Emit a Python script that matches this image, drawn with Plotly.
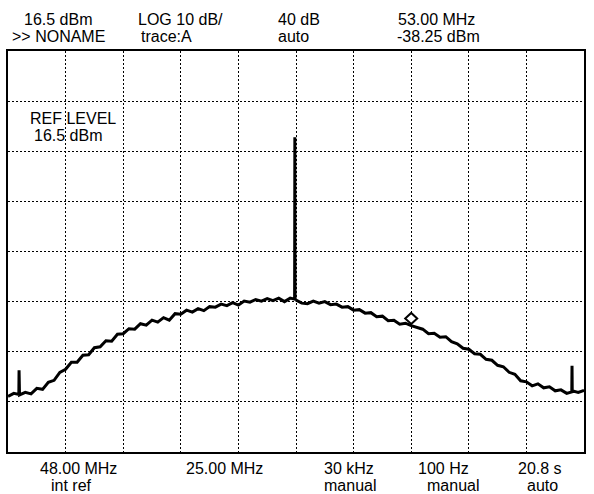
import plotly.graph_objects as go

# ---- data (spectrum analyzer trace) ----
freq_mhz = [35.50, 35.75, 35.97, 35.98, 35.99, 36.00, 36.25, 36.50, 36.75, 37.00, 37.25, 37.50, 37.75,
            38.00, 38.25, 38.50, 38.75, 39.00, 39.25, 39.50, 39.75, 40.00, 40.25, 40.50, 40.75,
            41.00, 41.25, 41.50, 41.75, 42.00, 42.25, 42.50, 42.75, 43.00, 43.25, 43.50, 43.75,
            44.00, 44.25, 44.50, 44.75, 45.00, 45.25, 45.50, 45.75, 46.00, 46.25, 46.50, 46.75,
            47.00, 47.25, 47.50, 47.75, 47.94, 47.95, 47.96, 48.00, 48.25, 48.50, 48.75,
            49.00, 49.25, 49.50, 49.75, 50.00, 50.25, 50.50, 50.75, 51.00, 51.25, 51.50, 51.75,
            52.00, 52.25, 52.50, 52.75, 53.00, 53.25, 53.50, 53.75, 54.00, 54.25, 54.50, 54.75,
            55.00, 55.25, 55.50, 55.75, 56.00, 56.25, 56.50, 56.75, 57.00, 57.25, 57.50, 57.75,
            58.00, 58.25, 58.50, 58.75, 59.00, 59.25, 59.50, 59.75, 59.97, 59.98, 59.99, 60.00,
            60.25, 60.50]
level_dbm = [-52.4, -51.8, -52.0, -47.2, -52.0, -52.1, -51.6, -51.9, -50.8, -51.0, -49.6, -49.2, -47.6,
             -47.0, -45.6, -45.6, -44.2, -44.1, -42.7, -42.5, -41.3, -41.4, -40.0, -39.9, -38.9,
             -39.0, -37.9, -38.2, -37.2, -37.6, -36.7, -37.2, -35.9, -36.0, -35.2, -35.6, -34.9,
             -35.3, -34.5, -34.6, -34.0, -34.3, -33.7, -34.2, -33.4, -33.6, -33.1, -33.4, -32.9,
             -33.3, -32.8, -33.5, -32.8, -33.0, -0.7, -33.0, -33.2, -33.8, -33.9, -33.4,
             -33.8, -33.5, -34.1, -34.0, -34.6, -34.5, -35.2, -35.1, -35.8, -35.7, -36.5, -36.4,
             -37.3, -37.2, -38.0, -37.8, -38.3, -38.6, -39.0, -39.9, -39.8, -40.6, -40.5, -41.5,
             -41.9, -42.8, -43.0, -43.9, -44.0, -45.0, -45.2, -46.2, -46.5, -47.6, -48.0, -49.3,
             -49.5, -50.3, -49.9, -50.7, -50.5, -51.3, -51.1, -51.8, -51.5, -46.3, -51.5, -51.3,
             -51.6, -51.2]

marker_freq = 53.00
marker_dbm = -38.25

ref_level = 16.5
db_per_div = 10
n_ydiv = 8
center_mhz = 48.00
span_mhz = 25.00

header_top = ["16.5 dBm", "LOG 10 dB/", "40 dB", "53.00 MHz"]
header_bot = [">> NONAME", "trace:A", "auto", "-38.25 dBm"]
footer_top = ["48.00 MHz", "25.00 MHz", "30 kHz", "100 Hz", "20.8 s"]
footer_bot = ["int ref", "", "manual", "manual", "auto"]
ref_text = ["REF LEVEL", "16.5 dBm"]

# ---- layout geometry (pixels) ----
W, H = 594, 494
L, R, T, B = 8, 584, 51, 452
FONT = "Liberation Sans Narrow, Liberation Sans, Arial, sans-serif"


def px(x):
    return (x - L) / (R - L)


def py(y):
    return (B - y) / (B - T)


fig = go.Figure()
fig.add_trace(go.Scatter(x=freq_mhz, y=level_dbm, mode="lines",
                         line=dict(color="black", width=3), hoverinfo="skip"))

x0 = center_mhz - span_mhz / 2
x1 = center_mhz + span_mhz / 2
y1 = ref_level
y0 = ref_level - db_per_div * n_ydiv

axis_common = dict(showgrid=True, gridcolor="black", gridwidth=1, griddash="2px,2px",
                   showline=True, linecolor="black", linewidth=2, mirror=True,
                   showticklabels=False, ticks="", zeroline=False, fixedrange=True)
fig.update_xaxes(range=[x0, x1], tick0=x0, dtick=span_mhz / 10, **axis_common)
fig.update_yaxes(range=[y0, y1], tick0=y0, dtick=db_per_div, **axis_common)

# marker diamond drawn just above the trace point
fig.add_shape(type="path", xref="x", yref="y", xsizemode="pixel", ysizemode="pixel",
              xanchor=marker_freq, yanchor=marker_dbm,
              path="M0,1.5 L6,7 L0,12.5 L-6,7 Z",
              line=dict(color="black", width=2), fillcolor="white")

ann = []


def text(s, x, y, size=16):
    ann.append(dict(text=s, x=px(x), y=py(y), xref="paper", yref="paper",
                    xanchor="left", yanchor="middle", showarrow=False, borderpad=0,
                    font=dict(family=FONT, size=size, color="black")))


hx_top = [23, 137, 277, 397]
hx_bot = [11, 140, 277, 396]
for s, x in zip(header_top, hx_top):
    text(s, x, 19)
for s, x in zip(header_bot, hx_bot):
    text(s, x, 36)

fx_top = [39, 185, 323, 417, 517]
fx_bot = [50, 0, 323, 426, 526]
for s, x in zip(footer_top, fx_top):
    text(s, x, 468)
for s, x in zip(footer_bot, fx_bot):
    if s:
        text(s, x, 485)

text(ref_text[0], 29, 118)
text(ref_text[1], 33, 135)

fig.update_layout(width=W, height=H, margin=dict(l=L, r=W - R, t=T, b=H - B),
                  paper_bgcolor="white", plot_bgcolor="white", showlegend=False,
                  annotations=ann)

fig.write_html("out.html", config={"displayModeBar": False},
               post_script="document.body.style.margin='0px';")
